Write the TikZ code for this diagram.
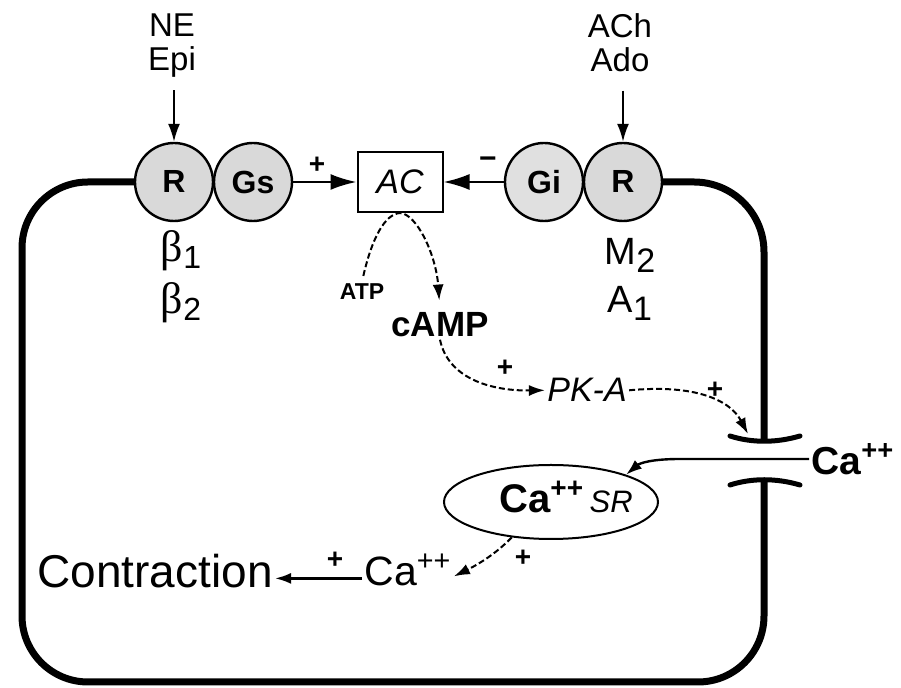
\documentclass[tikz,border=0pt]{standalone}
\usepackage{fontspec}
\setmainfont{Liberation Sans}
\newfontfamily\greekfont{Liberation Serif}
\usetikzlibrary{arrows.meta,shapes.geometric}

\newcommand\betasub[1]{{\greekfont β}\raisebox{-3.5pt}{\fontsize{16}{16}\selectfont #1}}
\newcommand\lowsub[1]{\raisebox{-4pt}{\fontsize{17}{17}\selectfont #1}}

\tikzset{
  membrane/.style={line width=3.5pt},
  pore/.style={line width=2.5pt, line cap=round},
  recep/.style={circle, draw, line width=1.2pt, fill=gray!30, minimum size=39pt, inner sep=0pt, font=\fontsize{16}{16}\selectfont\bfseries},
  enzyme/.style={draw, line width=1pt, minimum width=42.5pt, minimum height=30pt, inner sep=0pt, font=\fontsize{17}{17}\selectfont\itshape},
  txt/.style={inner sep=1pt, anchor=base},
  sign/.style={inner sep=0pt, font=\fontsize{14}{14}\selectfont\bfseries},
  ligarr/.style={-{Latex[length=9pt,width=6pt]}, line width=1pt},
  sigarr/.style={-{Latex[length=13pt,width=8pt]}, line width=1.1pt},
  dasharr/.style={-{Latex[length=8pt,width=5.5pt]}, line width=1pt, dash pattern=on 3pt off 1.5pt},
  ionarr/.style={-{Latex[length=8pt,width=5.5pt]}, line width=1.2pt},
}

\begin{document}
\begin{tikzpicture}[x=0.5pt,y=-0.5pt]
\useasboundingbox (0,0) rectangle (901,688);

% receptors and G proteins
\node[recep] (rb) at (174,182) {R};
\node[recep] (gs) at (253,182) {Gs};
\node[enzyme] (ac) at (400,182) {AC};
\node[recep,fill=gray!24] (gi) at (544,182) {Gi};
\node[recep] (rm) at (623,182) {R};

% ligands
\node[txt,font=\fontsize{16.5}{16.5}\selectfont] (ne)  at (172,37) {NE};
\node[txt,font=\fontsize{16.5}{16.5}\selectfont] (epi) at (172,71) {Epi};
\node[txt,font=\fontsize{16.5}{16.5}\selectfont] (ach) at (620,38) {ACh};
\node[txt,font=\fontsize{16.5}{16.5}\selectfont] (ado) at (620,72) {Ado};
\draw[ligarr,shorten <=5pt] (epi.south -| rb.north) -- (rb.north);
\draw[ligarr,shorten <=8pt] (ado.south -| rm.north) -- (rm.north);

% receptor subtypes
\node[txt,font=\fontsize{22}{22}\selectfont] (b1) at (181,262) {\betasub{1}};
\node[txt,font=\fontsize{22}{22}\selectfont] (b2) at (181,314) {\betasub{2}};
\node[txt,font=\fontsize{19}{19}\selectfont] (m2) at (630,265) {M\lowsub{2}};
\node[txt,font=\fontsize{19}{19}\selectfont] (a1) at (630,313) {A\lowsub{1}};

% coupling to AC
\draw[sigarr] (gs) -- (ac);
\draw[sigarr] (gi) -- (ac);
\node[sign] (pgs) at (317,165) {+};
\node[sign,font=\fontsize{15}{15}\selectfont\bfseries] (mgi) at (488,163) {−};

% second messenger
\node[txt,font=\fontsize{11.5}{11.5}\selectfont\bfseries] (atp) at (362,300) {ATP};
\node[txt,font=\fontsize{17.5}{17.5}\selectfont\bfseries] (camp) at (440,337) {cAMP};
\node[txt,font=\fontsize{17}{17}\selectfont\itshape] (pka) at (587,402) {PK-A};
\draw[dasharr,shorten <=3pt,shorten >=5pt] (atp.north) .. controls (372,238) and (385,214) .. (ac.south)
  .. controls (417,214) and (436,255) .. (camp.north);
\draw[dasharr] (camp.south) .. controls (448,378) and (490,391) .. (pka.west);
\node[sign] (pcamp) at (505,368) {+};

% membrane and Ca channel
\coordinate (chtop) at (764,441);
\coordinate (chbot) at (764,479);
\coordinate (chin) at (748,434);
\draw[membrane,rounded corners=35pt] (rm.east) -- (764,182) -- (chtop);
\draw[membrane,rounded corners=33pt] (rb.west) -- (22,182) -- (22,682) -- (764,682) -- (chbot);
\draw[pore] (730,436) .. controls (752,443) and (776,443) .. (800,436);
\draw[pore] (730,485) .. controls (752,478) and (776,478) .. (800,485);
\draw[dasharr] (pka.east) .. controls (695,384) and (730,400) .. (chin);
\node[sign] (ppka) at (715,390) {+};

% calcium
\node[txt,font=\fontsize{19.5}{19.5}\selectfont\bfseries] (caout) at (853,475) {Ca\textsuperscript{++}};
\node[ellipse,draw,line width=1pt,minimum width=107pt,minimum height=37pt,inner sep=0pt] (sr) at (551,502) {};
\node[txt] (srtxt) at (566,513) {{\fontsize{20}{20}\selectfont\bfseries Ca\textsuperscript{++}} {\fontsize{15.5}{15.5}\selectfont\itshape SR}};
\coordinate (bend) at (680,459);
\draw[ionarr] (caout.west |- bend) -- (bend) .. controls (652,459) and (640,463) .. (sr.20);

\node[txt,font=\fontsize{20.5}{20.5}\selectfont] (cain) at (408,586) {Ca\textsuperscript{++}};
\node[txt,font=\fontsize{23}{23}\selectfont] (contr) at (155,588) {Contraction};
\coordinate (caend) at ([yshift=-3pt]cain.east);
\draw[dasharr] (sr.222) .. controls (495,555) and (475,566) .. (caend);
\node[sign] (psr) at (523,558) {+};
\coordinate (cal) at ([yshift=-4pt]cain.west);
\draw[ionarr] (cal) -- (cal -| contr.east);
\node[sign] (pca) at (335,560) {+};
\end{tikzpicture}
\end{document}
